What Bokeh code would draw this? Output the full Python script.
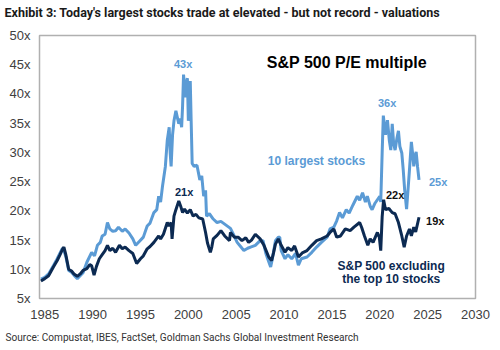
from bokeh.plotting import figure
from bokeh.models import ColumnDataSource, FixedTicker, PrintfTickFormatter, Label, Title
from bokeh.embed import file_html
from bokeh.resources import INLINE

# ---- data ----
top10_years = [1984.6, 1985.0, 1985.4, 1985.9, 1986.3, 1986.6, 1986.85, 1987.0, 1987.2, 1987.5,
               1987.8, 1988.05, 1988.4, 1988.7, 1989.0, 1989.4, 1989.9, 1990.2, 1990.5, 1990.8,
               1991.0, 1991.3, 1991.55, 1991.8, 1992.1, 1992.4, 1992.7, 1993.1, 1993.4, 1993.8,
               1994.2, 1994.5, 1994.9, 1995.3, 1995.7, 1996.0, 1996.4, 1996.7, 1996.9, 1997.1,
               1997.3, 1997.6, 1997.8, 1998.0, 1998.1, 1998.2, 1998.35, 1998.5, 1998.7, 1998.85,
               1999.0, 1999.15, 1999.3, 1999.4, 1999.5, 1999.6, 1999.7, 1999.8, 1999.9, 2000.0,
               2000.1, 2000.2, 2000.3, 2000.4, 2000.6, 2000.9, 2001.2, 2001.4, 2001.6, 2001.8,
               2001.9, 2002.2, 2002.6, 2003.0, 2003.4, 2003.9, 2004.4, 2004.7, 2005.1, 2005.5,
               2005.8, 2006.2, 2006.5, 2007.0, 2007.5, 2007.8, 2008.1, 2008.4, 2008.6, 2008.8,
               2009.1, 2009.4, 2009.55, 2009.7, 2010.1, 2010.4, 2010.8, 2011.2, 2011.5, 2011.8,
               2012.4, 2012.9, 2013.4, 2013.9, 2014.5, 2014.8, 2015.2, 2015.5, 2015.8, 2016.1,
               2016.5, 2016.8, 2017.2, 2017.65, 2017.9, 2018.2, 2018.5, 2018.7, 2019.0, 2019.2,
               2019.5, 2019.75, 2020.0, 2020.1, 2020.25, 2020.37, 2020.6, 2020.8, 2021.0, 2021.15,
               2021.3, 2021.45, 2021.6, 2021.8, 2021.95, 2022.1, 2022.3, 2022.45, 2022.6, 2022.8,
               2022.95, 2023.1, 2023.3, 2023.45, 2023.55, 2023.7, 2023.8, 2023.95, 2024.1]
top10_pe = [8.3, 8.6, 9.2, 10.6, 11.8, 12.8, 13.6, 13.2, 12.2, 9.8,
            9.5, 9.0, 8.4, 8.9, 9.4, 11.2, 12.9, 12.3, 14.1, 14.6,
            15.7, 16.0, 18.0, 16.9, 16.5, 16.6, 17.2, 16.5, 16.9, 16.2,
            15.2, 14.1, 14.8, 15.5, 17.4, 17.9, 19.7, 20.2, 22.5, 21.5,
            24.2, 27.6, 32.1, 34.3, 30.0, 27.6, 33.0, 35.4, 37.1, 36.0,
            34.9, 35.8, 34.3, 38.0, 43.3, 41.0, 39.4, 42.0, 42.7, 35.4,
            40.0, 42.2, 35.0, 28.1, 27.6, 27.8, 25.3, 26.0, 22.5, 23.5,
            19.1, 19.5, 18.6, 18.0, 18.2, 17.6, 17.0, 16.0, 14.6, 13.8,
            13.2, 13.6, 13.8, 14.1, 14.9, 14.9, 12.7, 11.3, 10.4, 12.0,
            14.9, 15.5, 15.5, 13.2, 11.8, 12.5, 11.8, 12.7, 10.7, 11.8,
            12.1, 12.9, 13.8, 14.6, 15.5, 16.9, 17.2, 18.3, 19.7, 18.8,
            20.2, 19.6, 21.0, 22.5, 21.8, 23.1, 21.5, 22.5, 20.8, 20.2,
            21.3, 21.9, 22.5, 21.5, 30.0, 36.3, 33.0, 35.5, 32.0, 30.4,
            34.9, 31.5, 30.4, 32.5, 33.7, 31.0, 29.9, 27.0, 23.6, 20.3,
            23.6, 27.0, 31.8, 29.5, 27.6, 29.5, 30.1, 27.5, 25.3]

rest_years = [1984.6, 1985.0, 1985.4, 1985.9, 1986.3, 1986.6, 1986.85, 1987.0, 1987.2, 1987.5,
              1987.8, 1988.05, 1988.4, 1988.7, 1989.0, 1989.4, 1989.7, 1989.9, 1990.15, 1990.4,
              1990.7, 1991.0, 1991.3, 1991.55, 1991.8, 1992.1, 1992.4, 1992.8, 1993.1, 1993.4,
              1993.8, 1994.2, 1994.6, 1995.0, 1995.3, 1995.7, 1996.0, 1996.4, 1996.9, 1997.1,
              1997.4, 1997.8, 1998.0, 1998.2, 1998.3, 1998.5, 1998.7, 1999.0, 1999.2, 1999.4,
              1999.6, 1999.9, 2000.2, 2000.5, 2000.8, 2001.1, 2001.5, 2001.8, 2002.0, 2002.3,
              2002.45, 2002.6, 2003.0, 2003.4, 2003.8, 2004.3, 2004.4, 2004.8, 2005.2, 2005.6,
              2006.0, 2006.3, 2006.6, 2007.0, 2007.5, 2007.9, 2008.4, 2008.7, 2008.9, 2009.1,
              2009.4, 2009.7, 2010.1, 2010.4, 2010.8, 2011.1, 2011.5, 2011.9, 2012.4, 2012.9,
              2013.4, 2013.9, 2014.5, 2014.8, 2015.2, 2015.5, 2015.9, 2016.4, 2016.9, 2017.3,
              2017.9, 2018.1, 2018.4, 2018.75, 2019.0, 2019.3, 2019.75, 2019.95, 2020.1, 2020.25,
              2020.4, 2020.6, 2020.95, 2021.3, 2021.6, 2021.95, 2022.3, 2022.55, 2022.8, 2023.1,
              2023.3, 2023.55, 2023.75, 2024.1]
rest_pe = [8.0, 8.4, 8.9, 10.4, 11.5, 12.5, 13.4, 13.8, 12.5, 10.0,
           9.7, 9.2, 8.8, 9.2, 9.8, 10.1, 10.8, 10.6, 9.0, 10.5,
           11.8, 12.5, 13.2, 14.1, 13.2, 13.6, 12.9, 14.1, 13.5, 13.8,
           13.2, 12.7, 11.0, 11.8, 12.3, 13.5, 13.9, 14.6, 15.7, 15.2,
           16.0, 18.0, 17.4, 18.0, 15.2, 19.1, 20.2, 21.7, 20.8, 19.7,
           20.3, 19.6, 20.2, 19.1, 19.4, 18.8, 18.6, 16.3, 14.5, 12.9,
           13.8, 15.2, 15.8, 16.6, 15.7, 14.9, 16.3, 15.5, 15.5, 14.9,
           15.4, 14.6, 15.0, 16.0, 15.2, 14.1, 12.1, 11.5, 12.8, 14.3,
           15.2, 14.1, 12.9, 13.7, 13.2, 14.0, 12.1, 12.8, 13.2, 14.1,
           14.9, 15.2, 15.7, 16.3, 16.9, 15.5, 15.7, 16.9, 16.6, 17.2,
           18.0, 17.2, 15.7, 14.1, 15.2, 14.6, 16.3, 15.5, 13.2, 19.0,
           21.9, 20.2, 20.4, 19.7, 19.5, 18.0, 15.7, 13.8, 15.7, 16.9,
           15.7, 17.2, 16.4, 18.9]

x_ticks = [1985, 1990, 1995, 2000, 2005, 2010, 2015, 2020, 2025, 2030]
y_ticks = [5, 10, 15, 20, 25, 30, 35, 40, 45, 50]

TITLE = "Exhibit 3: Today's largest stocks trade at elevated - but not record - valuations"
SOURCE = "Source: Compustat, IBES, FactSet, Goldman Sachs Global Investment Research"

LIGHT = "#5b9bd5"
DARK = "#0c2a52"
FONT = "Liberation Sans"

p = figure(width=500, height=350, x_range=(1984.45, 2030.0), y_range=(5, 50),
           output_backend="svg", toolbar_location=None,
           min_border_left=39, min_border_right=25, min_border_top=35, min_border_bottom=50)
p.background_fill_color = "white"
p.border_fill_color = "white"
p.outline_line_color = "#b0b0b0"
p.outline_line_width = 1.5
p.xgrid.visible = False
p.ygrid.visible = False

for ax in (p.xaxis[0], p.yaxis[0]):
    ax.axis_line_color = None
    ax.major_tick_line_color = None
    ax.minor_tick_line_color = None
    ax.major_tick_out = 0
    ax.major_tick_in = 0
    ax.major_label_text_font = FONT
    ax.major_label_text_color = "#404040"

p.xaxis.ticker = FixedTicker(ticks=x_ticks)
p.yaxis.ticker = FixedTicker(ticks=y_ticks)
p.yaxis.formatter = PrintfTickFormatter(format="%dx")
p.yaxis.major_label_text_font_size = "13px"
p.xaxis.major_label_text_font_size = "13px"
p.yaxis.major_label_standoff = 9
p.xaxis.major_label_standoff = 11

src_top = ColumnDataSource(dict(x=top10_years, y=top10_pe))
src_rest = ColumnDataSource(dict(x=rest_years, y=rest_pe))
p.line("x", "y", source=src_top, line_color=LIGHT, line_width=3)
p.line("x", "y", source=src_rest, line_color=DARK, line_width=3)

def lab(x, y, text, color, size, align="center"):
    p.add_layout(Label(x=x, y=y, text=text, text_color=color, text_font=FONT,
                       text_font_size=size, text_font_style="bold",
                       text_align=align, text_baseline="middle"))

lab(1999.45, 45.2, "43x", LIGHT, "11px")
lab(1999.56, 23.3, "21x", DARK, "11px")
lab(2020.77, 38.5, "36x", LIGHT, "11px")
lab(2026.1, 24.85, "25x", LIGHT, "11px")
lab(2021.6, 22.7, "22x", "#111111", "11px")
lab(2025.8, 18.3, "19x", "#111111", "11px")
lab(2008.2, 45.3, "S&P 500 P/E multiple", "#000000", "16px", "left")
lab(2008.3, 28.5, "10 largest stocks", LIGHT, "12px", "left")
lab(2021.2, 10.5, "S&P 500 excluding", DARK, "12px")
lab(2021.2, 8.3, "the top 10 stocks", DARK, "12px")

# spacer panel next to the frame, then the title above it
spacer = Title(text=" ", text_font_size="1px", standoff=11, text_color="white")
p.add_layout(spacer, "above")
t = Title(text=TITLE, text_font="Roboto", text_font_size="12.5px", text_font_style="bold",
          text_color="#1a1a1a", align="left", vertical_align="top", offset=-35, standoff=0)
p.add_layout(t, "above")
s = Title(text=SOURCE, text_font="Roboto", text_font_size="10.1px", text_font_style="normal",
          text_color="#333333", align="left", offset=-34, standoff=16)
p.add_layout(s, "below")

open("out.html", "w").write(file_html(p, INLINE))
